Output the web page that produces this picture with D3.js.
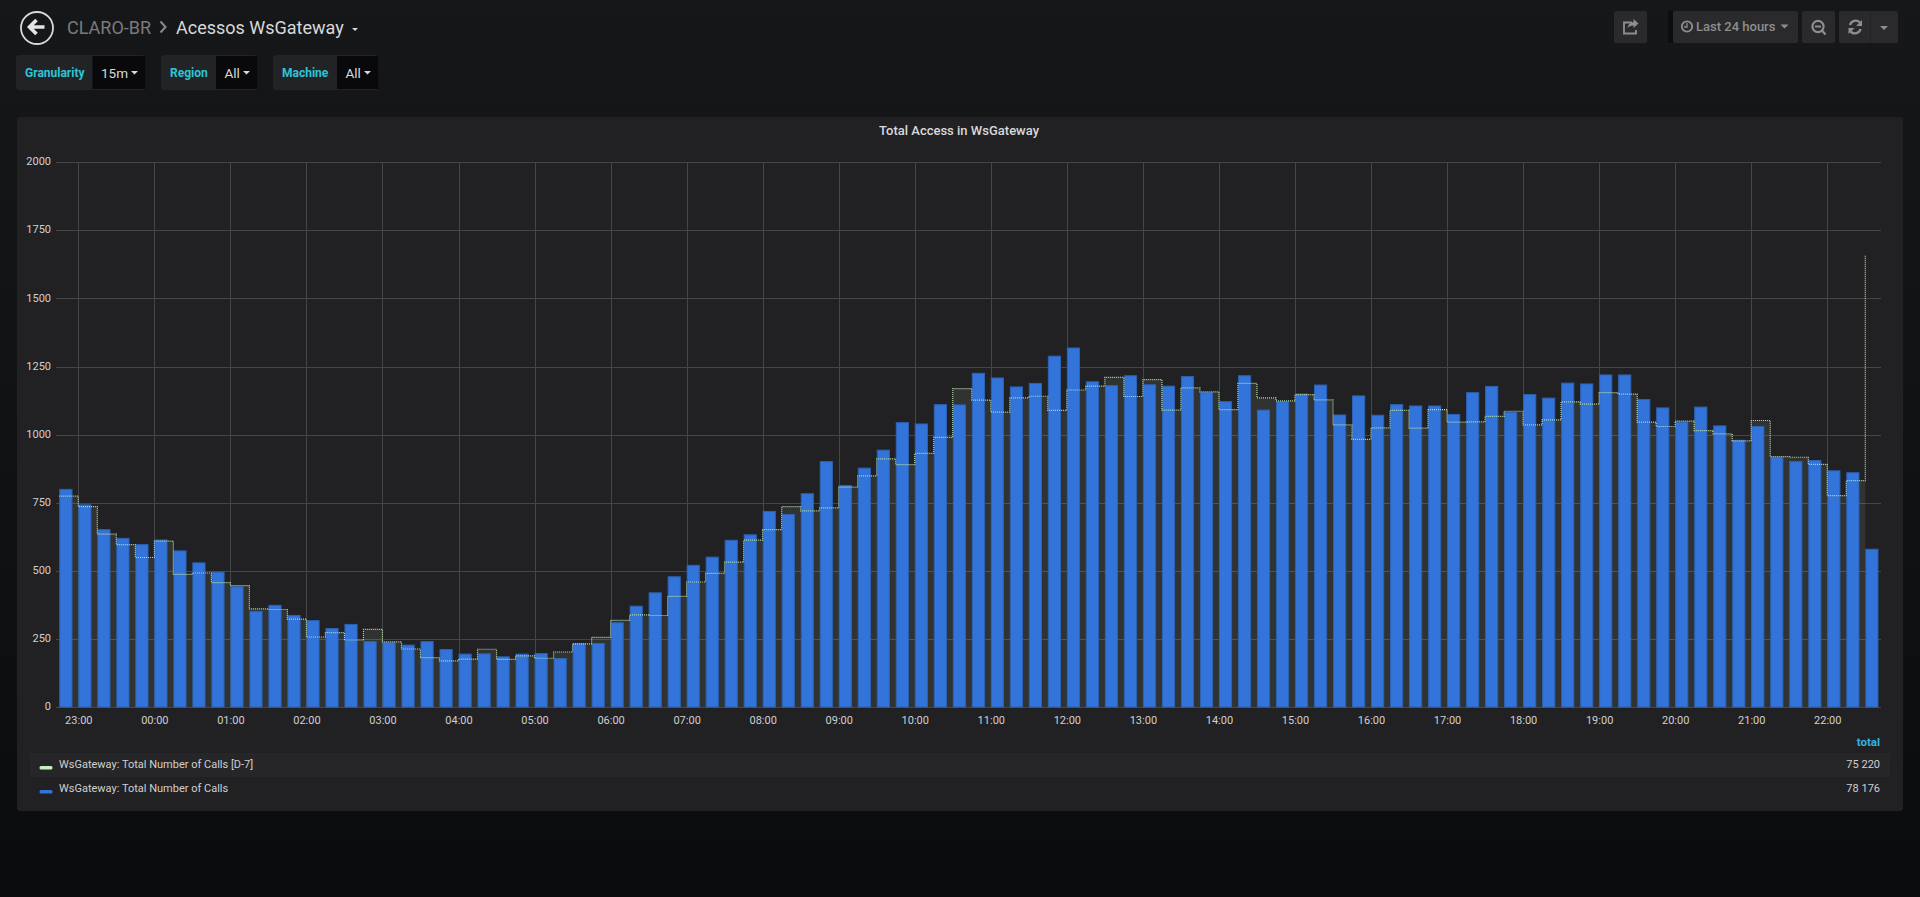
<!DOCTYPE html>
<html>
<head>
<meta charset="utf-8">
<title>Acessos WsGateway</title>
<script src="https://cdnjs.cloudflare.com/ajax/libs/d3/7.8.5/d3.min.js"></script>
<style>
    html, body { margin: 0; padding: 0; height: 897px; overflow: hidden; }
    body { background: linear-gradient(#161719, #0b0c0e); font-family: Roboto, sans-serif; }
    svg { display: block; }
    text { font-family: Roboto, sans-serif; }
    .domain { display: none; }
    .axis line { display: none; }
    .axis text { fill: #cfd0d1; font-size: 11px; font-family: Roboto, sans-serif; }
</style>
</head>
<body>
<svg id="page" width="1920" height="897"></svg>
<script>
// DATA
var firstBucket = "2018-01-01T22:45:00Z";
var yTicks = [0, 250, 500, 750, 1000, 1250, 1500, 1750, 2000];
var seriesNames = ["WsGateway: Total Number of Calls [D-7]", "WsGateway: Total Number of Calls"];
var seriesTotals = ["75 220", "78 176"];

var calls = [
    801, 744, 653, 621, 598, 615, 575, 531, 497, 443, 353, 375,
    338, 319, 290, 305, 242, 238, 229, 242, 213, 196, 197, 186,
    196, 198, 180, 235, 235, 311, 372, 421, 480, 522, 552, 614,
    634, 720, 709, 785, 903, 815, 879, 945, 1046, 1041, 1112, 1111,
    1227, 1210, 1177, 1190, 1290, 1320, 1196, 1182, 1218, 1185, 1180, 1215,
    1156, 1123, 1218, 1092, 1123, 1151, 1184, 1074, 1144, 1073, 1112, 1107,
    1107, 1076, 1156, 1179, 1084, 1149, 1136, 1191, 1188, 1221, 1221, 1131,
    1100, 1048, 1103, 1034, 981, 1032, 918, 903, 907, 869, 862, 581
];

var callsD7 = [
    774, 736, 635, 596, 549, 609, 487, 492, 457, 446, 360, 358,
    323, 257, 273, 246, 285, 239, 213, 181, 169, 176, 212, 175,
    188, 179, 202, 232, 256, 318, 338, 336, 406, 459, 491, 532,
    613, 651, 736, 720, 731, 807, 849, 911, 890, 931, 990, 1169,
    1127, 1083, 1135, 1141, 1089, 1164, 1178, 1210, 1140, 1202, 1090, 1172,
    1157, 1092, 1188, 1135, 1124, 1147, 1128, 1036, 983, 1025, 1089, 1024,
    1092, 1046, 1047, 1067, 1086, 1036, 1054, 1120, 1112, 1154, 1149, 1046,
    1030, 1050, 1015, 1003, 977, 1052, 919, 917, 891, 776, 831, 1660
];

var times = calls.map(function (d, i) {
    return d3.utcMinute.offset(new Date(firstBucket), i * 15);
});

var svg = d3.select("#page");

// PANEL
svg.append("rect")
    .attr("x", 17).attr("y", 117)
    .attr("width", 1886).attr("height", 694)
    .attr("rx", 3)
    .attr("fill", "#212124");

svg.append("text")
    .attr("x", 959).attr("y", 135)
    .attr("text-anchor", "middle")
    .attr("font-size", "13px")
    .attr("font-weight", 500)
    .attr("fill", "#d8d9da")
    .text("Total Access in WsGateway");

// SCALES
var xScale = d3.scaleUtc()
    .domain([new Date("2018-01-01T22:42:24Z"), new Date("2018-01-02T22:42:24Z")])
    .range([56, 1881]);

var yScale = d3.scaleLinear()
    .domain([0, 2000])
    .range([707, 162.3]);

var barWidth = xScale(d3.utcMinute.offset(times[0], 10)) - xScale(times[0]);

// GRID
var hours = xScale.ticks(d3.utcHour.every(1));

svg.append("g").selectAll("line")
    .data(yTicks)
    .enter().append("line")
    .attr("x1", 56).attr("x2", 1881)
    .attr("y1", function (d) { return Math.round(yScale(d)) + 0.5; })
    .attr("y2", function (d) { return Math.round(yScale(d)) + 0.5; })
    .attr("stroke", "#464648");

svg.append("g").selectAll("line")
    .data(hours)
    .enter().append("line")
    .attr("x1", function (d) { return Math.round(xScale(d)) + 0.5; })
    .attr("x2", function (d) { return Math.round(xScale(d)) + 0.5; })
    .attr("y1", 162).attr("y2", 707)
    .attr("stroke", "#464648");

// AXES
svg.append("g")
    .attr("class", "axis")
    .attr("transform", "translate(0,707)")
    .call(d3.axisBottom(xScale).tickValues(hours).tickSize(0).tickPadding(9)
        .tickFormat(d3.utcFormat("%H:%M")));

svg.append("g")
    .attr("class", "axis")
    .attr("transform", "translate(51,-1)")
    .call(d3.axisLeft(yScale).tickValues(yTicks).tickSize(0).tickPadding(0)
        .tickFormat(d3.format("d")));

// D-7 AREA, UNDER THE BARS
var area = d3.area()
    .curve(d3.curveStepAfter)
    .x(function (d, i) { return xScale(times[i]); })
    .y0(yScale(0))
    .y1(function (d) { return yScale(d); });

svg.append("path")
    .datum(callsD7)
    .attr("d", area)
    .attr("fill", "#b7dbab")
    .attr("fill-opacity", 0.1);

// BARS
svg.append("g").selectAll("rect")
    .data(calls)
    .enter().append("rect")
    .attr("x", function (d, i) { return xScale(times[i]) + 0.5; })
    .attr("y", function (d) { return yScale(d) + 0.5; })
    .attr("width", barWidth - 0.5)
    .attr("height", function (d) { return yScale(0) - yScale(d) - 0.5; })
    .attr("fill", "#3274d9")
    .attr("stroke", "#2c62b3")
    .attr("stroke-width", 1);

// D-7 LINE
var line = d3.line()
    .curve(d3.curveStepAfter)
    .x(function (d, i) { return xScale(times[i]); })
    .y(function (d) { return yScale(d); });

svg.append("path")
    .datum(callsD7)
    .attr("d", line)
    .attr("fill", "none")
    .attr("stroke", "#b7dbab")
    .attr("stroke-width", 1.2)
    .attr("stroke-dasharray", "1 1");

// LEGEND
svg.append("text")
    .attr("x", 1880).attr("y", 746)
    .attr("text-anchor", "end")
    .attr("font-size", "11.5px")
    .attr("font-weight", 700)
    .attr("fill", "#33b5e5")
    .text("total");

svg.append("rect")
    .attr("x", 30).attr("y", 753)
    .attr("width", 1860).attr("height", 24)
    .attr("fill", "#262628");

var legendColors = ["#c9efbb", "#3274d9"];

seriesNames.forEach(function (name, i) {
    var rowY = 768 + i * 24;
    svg.append("rect")
        .attr("x", 39.5).attr("y", rowY - 2)
        .attr("width", 13).attr("height", 3.5)
        .attr("rx", 1.5)
        .attr("fill", legendColors[i]);
    svg.append("text")
        .attr("x", 59).attr("y", rowY)
        .attr("font-size", "11px")
        .attr("fill", "#cfd0d1")
        .text(name);
    svg.append("text")
        .attr("x", 1880).attr("y", rowY)
        .attr("text-anchor", "end")
        .attr("font-size", "11px")
        .attr("fill", "#cfd0d1")
        .text(seriesTotals[i]);
});

// HEADER
svg.append("circle")
    .attr("cx", 37).attr("cy", 28).attr("r", 16)
    .attr("fill", "none")
    .attr("stroke", "#d8d9da")
    .attr("stroke-width", 1.8);

svg.append("path")
    .attr("d", "M36.5 20 L29.5 27 L36.5 34 M30.5 27 L44.5 27")
    .attr("fill", "none")
    .attr("stroke", "#e4e4e4")
    .attr("stroke-width", 3.6);

svg.append("text")
    .attr("x", 67).attr("y", 33.5)
    .attr("font-size", "18px")
    .attr("fill", "#7b7b7b")
    .text("CLARO-BR");

svg.append("path")
    .attr("d", "M160.5 21.5 L165.5 27 L160.5 32.5")
    .attr("fill", "none")
    .attr("stroke", "#8a8a8a")
    .attr("stroke-width", 2);

svg.append("text")
    .attr("x", 176).attr("y", 33.5)
    .attr("font-size", "18px")
    .attr("fill", "#d8d9da")
    .text("Acessos WsGateway");

function caret(x, y, w, color) {
    svg.append("path")
        .attr("d", "M" + x + " " + y + " h" + w + " l" + (-w / 2) + " " + (w / 2) + " z")
        .attr("fill", color);
}

caret(352, 28, 6, "#d8d9da");

// TEMPLATE VARIABLES
var variableNames = ["Granularity", "Region", "Machine"];
var variableValues = ["15m", "All", "All"];
var variableBoxes = [
    { x: 16, split: 92.5, end: 145.5 },
    { x: 161, split: 216, end: 257.5 },
    { x: 273, split: 337, end: 378.5 }
];

variableNames.forEach(function (name, i) {
    var box = variableBoxes[i];
    svg.append("rect")
        .attr("x", box.x).attr("y", 55)
        .attr("width", box.end - box.x).attr("height", 35)
        .attr("rx", 3)
        .attr("fill", "#222327");
    svg.append("rect")
        .attr("x", box.split).attr("y", 56)
        .attr("width", box.end - box.split).attr("height", 33)
        .attr("fill", "#09090b");
    svg.append("text")
        .attr("x", box.x + 9).attr("y", 77)
        .attr("font-size", "12px")
        .attr("font-weight", 700)
        .attr("fill", "#2cc5d6")
        .text(name);
    svg.append("text")
        .attr("x", box.split + 8.5).attr("y", 78)
        .attr("font-size", "13.5px")
        .attr("fill", "#d8d9da")
        .text(variableValues[i]);
    caret(box.end - 14.5, 71, 7, "#d8d9da");
});

// TOOLBAR
var toolbarButtons = [[1614, 33], [1673, 125], [1802, 33], [1839, 59]];

svg.append("rect")
    .attr("x", 1668).attr("y", 11)
    .attr("width", 5).attr("height", 32)
    .attr("fill", "#0c0d0e");

toolbarButtons.forEach(function (b) {
    svg.append("rect")
        .attr("x", b[0]).attr("y", 11)
        .attr("width", b[1]).attr("height", 32)
        .attr("rx", 2)
        .attr("fill", "#2a2a2d");
});

svg.append("line")
    .attr("x1", 1870.5).attr("x2", 1870.5)
    .attr("y1", 11).attr("y2", 43)
    .attr("stroke", "#232326");

var iconColor = "#8e8e8e";

// share
svg.append("path")
    .attr("d", "M1632 22.5 h-8 v11 h12 v-3.5")
    .attr("fill", "none")
    .attr("stroke", iconColor)
    .attr("stroke-width", 1.8);
svg.append("path")
    .attr("d", "M1633.5 19 l5 4.5 l-5 4.5 v-2.5 c-3 0 -4.6 0.8 -6 3 c0.4 -3.8 2.5 -6 6 -6.6 z")
    .attr("fill", iconColor);

// clock
svg.append("circle")
    .attr("cx", 1687).attr("cy", 26.5).attr("r", 5.2)
    .attr("fill", "none")
    .attr("stroke", iconColor)
    .attr("stroke-width", 1.8);
svg.append("path")
    .attr("d", "M1687 23 v4 h-3")
    .attr("fill", "none")
    .attr("stroke", iconColor)
    .attr("stroke-width", 1.3);

svg.append("text")
    .attr("x", 1696).attr("y", 31)
    .attr("font-size", "13px")
    .attr("font-weight", 500)
    .attr("fill", iconColor)
    .text("Last 24 hours");

caret(1780.5, 24.5, 8, iconColor);

// zoom out
svg.append("circle")
    .attr("cx", 1818).attr("cy", 26.5).attr("r", 5.6)
    .attr("fill", "none")
    .attr("stroke", iconColor)
    .attr("stroke-width", 2.2);
svg.append("path")
    .attr("d", "M1815 26.5 h6 M1822 30.5 l3.5 4")
    .attr("fill", "none")
    .attr("stroke", iconColor)
    .attr("stroke-width", 2.2);

// refresh
svg.append("path")
    .attr("d", "M1850 25 a5.8 5.8 0 0 1 9.8 -2.6 M1860.5 29 a5.8 5.8 0 0 1 -9.8 2.6")
    .attr("fill", "none")
    .attr("stroke", iconColor)
    .attr("stroke-width", 2.4);
svg.append("path")
    .attr("d", "M1862 20 v6 h-6 z M1848.5 34 v-6 h6 z")
    .attr("fill", iconColor);

caret(1880, 26, 8, iconColor);
</script>
</body>
</html>
